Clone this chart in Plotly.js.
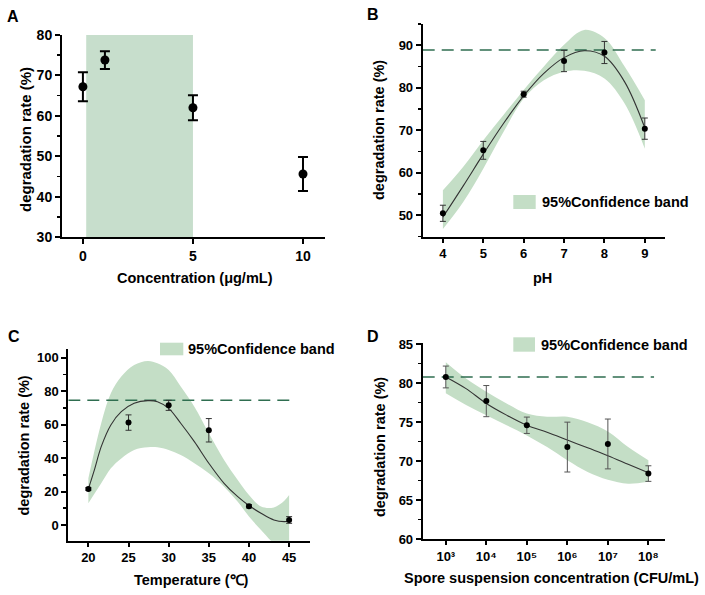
<!DOCTYPE html>
<html>
<head>
<meta charset="utf-8">
<script src="https://cdn.plot.ly/plotly-3.0.1.min.js"></script>
<style>html,body{margin:0;padding:0;background:#fff;}#chart{width:705px;height:595px;}</style>
</head>
<body>
<div id="chart"></div>
<script>
// ---------- Panel A ----------
const concA = [0, 1, 5, 10];
const rateA = [67.2, 73.8, 62.0, 45.6];
const errA  = [3.6, 2.2, 3.1, 4.2];
const shadeA = [0.15, 5];          // shaded concentration window
const shadeAy = [30, 80];

// ---------- Panel B ----------
const phB   = [4, 5, 6, 7, 8, 9];
const rateB = [50.5, 65.3, 78.5, 86.3, 88.3, 70.4];
const errB  = [1.9, 2.1, 0.7, 2.5, 2.6, 2.5];
const fitBx = [4, 4.5, 5, 5.5, 6, 6.5, 7, 7.5, 8, 8.5, 9];
const fitB  = [49.6, 56.9, 64.4, 71.6, 78.1, 83.4, 87.1, 88.7, 87.4, 81.4, 70.6];
const bandBup = [55.9, 61.4, 67.7, 73.6, 79.5, 85.0, 90.1, 93.6, 91.7, 85.0, 77.1];
const bandBlo = [46.8, 53.1, 61.0, 69.6, 77.5, 81.8, 83.8, 84.0, 82.2, 76.3, 65.7];
const refB  = 88.9;  const refBx = [3.5, 9.27];

// ---------- Panel C ----------
const tempC = [20, 25, 30, 35, 40, 45];
const rateC = [21.5, 61.2, 71.5, 56.6, 11.2, 3.0];
const errC  = [0.8, 4.6, 3.0, 7.0, 1.0, 2.0];
const fitCx = [20, 20.75, 21.6, 22.8, 24.1, 25.7, 27.4, 28.6, 30, 31.5, 33.2, 35, 36.9, 38.6, 40, 41.5, 43.1, 44.4, 45];
const fitC  = [21.5, 32.9, 46.8, 59.8, 67.7, 72.7, 74.3, 73.7, 69.7, 60.8, 49.8, 36.9, 24.9, 16.9, 11.6, 7.0, 3.0, 2.0, 2.4];
const bandCx  = [20, 21.6, 22.8, 24.1, 25.7, 27.4, 28.6, 30, 31.5, 33.2, 35, 36.9, 38.6, 40, 41.5, 43.1, 44.4, 45];
const bandCup = [28, 60.8, 78.7, 88.7, 95.6, 98.0, 96.6, 92.6, 82.7, 70.7, 54.8, 38.9, 26.9, 17.9, 11.0, 10.5, 14.5, 17.9];
const bandClo = [13.0, 24.9, 33.9, 39.8, 44.8, 46.4, 46.4, 44.8, 41.8, 36.9, 30.9, 22.9, 13.9, 5.0, -3.0, -11, -15, -17];
const refC  = 74.5;  const refCx = [17.5, 45.1];

// ---------- Panel D ----------
const expD   = [3, 4, 5, 6, 7, 8];   // log10(CFU/mL)
const tickD  = ['10³', '10⁴', '10⁵', '10⁶', '10⁷', '10⁸'];
const rateD  = [80.8, 77.7, 74.6, 71.8, 72.2, 68.4];
const errD   = [1.4, 2.0, 1.05, 3.2, 3.2, 1.0];
const fitDx  = [3, 3.5, 4, 4.5, 5, 5.5, 6, 6.5, 7, 7.5, 8];
const fitD   = [80.8, 79.3, 77.4, 75.9, 74.6, 73.7, 72.7, 71.7, 70.7, 69.6, 68.5];
const bandDup = [82.7, 80.6, 78.9, 77.4, 76.1, 75.7, 75.7, 75.0, 73.8, 71.8, 70.1];
const bandDlo = [78.7, 77.2, 75.9, 74.6, 73.3, 71.8, 70.1, 68.6, 67.6, 67.1, 67.35];
const refD  = 80.8;  const refDx = [2.43, 8.14];

// ---------- styling ----------
const W = 705, H = 595;
const FONT = 'Liberation Sans, Arial, Helvetica, sans-serif';
const BAND = 'rgb(196,222,198)';
const DASH = 'rgb(47,110,80)';
const px = v => v / W;
const py = v => 1 - v / H;

function bandTraces(xs, lo, up, xa, ya) {
  return [
    {x: xs, y: lo, xaxis: xa, yaxis: ya, mode: 'lines', line: {width: 0, shape: 'spline', color: BAND}, hoverinfo: 'skip', showlegend: false},
    {x: xs, y: up, xaxis: xa, yaxis: ya, mode: 'lines', fill: 'tonexty', fillcolor: BAND, line: {width: 0, shape: 'spline', color: BAND}, hoverinfo: 'skip', showlegend: false}
  ];
}
function fitTrace(xs, ys, xa, ya) {
  return {x: xs, y: ys, xaxis: xa, yaxis: ya, mode: 'lines', line: {color: '#333', width: 1.1, shape: 'spline'}, showlegend: false};
}
function refTrace(xs, yv, xa, ya) {
  return {x: xs, y: xs.map(() => yv), xaxis: xa, yaxis: ya, mode: 'lines', line: {color: DASH, width: 1.5, dash: '12px,7px'}, showlegend: false};
}
function ptTrace(xs, ys, es, xa, ya, ec) {
  return {x: xs, y: ys, xaxis: xa, yaxis: ya, mode: 'markers', marker: {color: '#000', size: 6},
    error_y: {type: 'data', array: es, visible: true, color: ec || '#333', thickness: 1, width: 3}, showlegend: false};
}

const traces = [
  {x: concA, y: rateA, xaxis: 'x', yaxis: 'y', mode: 'markers', marker: {color: '#000', size: 9},
   error_y: {type: 'data', array: errA, visible: true, color: '#000', thickness: 2, width: 5}, showlegend: false},
  ...bandTraces(fitBx, bandBlo, bandBup, 'x2', 'y2'),
  refTrace(refBx, refB, 'x2', 'y2'),
  fitTrace(fitBx, fitB, 'x2', 'y2'),
  ptTrace(phB, rateB, errB, 'x2', 'y2'),
  ...bandTraces(bandCx, bandClo, bandCup, 'x3', 'y3'),
  refTrace(refCx, refC, 'x3', 'y3'),
  fitTrace(fitCx, fitC, 'x3', 'y3'),
  ptTrace(tempC, rateC, errC, 'x3', 'y3'),
  ...bandTraces(fitDx, bandDlo, bandDup, 'x4', 'y4'),
  refTrace(refDx, refD, 'x4', 'y4'),
  fitTrace(fitDx, fitD, 'x4', 'y4'),
  ptTrace(expD, rateD, errD, 'x4', 'y4', '#555')
];

function axis(extra, fs) {
  return Object.assign({
    showline: true, linecolor: '#000', linewidth: 2, mirror: false,
    ticks: 'outside', ticklen: 5, tickwidth: 2, tickcolor: '#000',
    showgrid: false, zeroline: false, fixedrange: true,
    tickfont: {family: FONT, size: fs || 13, color: '#000', weight: 'bold'}
  }, extra);
}
function minor(d) { return {ticks: 'outside', ticklen: 3, tickwidth: 1.5, tickcolor: '#000', dtick: d, showgrid: false}; }

const layout = {
  width: W, height: H, margin: {l: 0, r: 0, t: 0, b: 0},
  paper_bgcolor: '#fff', plot_bgcolor: 'rgba(0,0,0,0)', showlegend: false,
  font: {family: FONT, color: '#000'},
  xaxis:  axis({domain: [px(62), px(325)], range: [-0.95, 11], tickmode: 'linear', tick0: 0, dtick: 5, anchor: 'y'}, 14),
  yaxis:  axis({domain: [py(237), py(35)], range: [30, 80], tickmode: 'linear', tick0: 30, dtick: 10, anchor: 'x', minor: minor(5)}, 14),
  xaxis2: axis({domain: [px(422.7), px(665)], range: [3.5, 9.5], tickmode: 'linear', tick0: 4, dtick: 1, anchor: 'y2', ticklen: 4}),
  yaxis2: axis({domain: [py(236.7), py(24)], range: [45, 95], tickmode: 'linear', tick0: 50, dtick: 10, anchor: 'x2', minor: minor(5)}),
  xaxis3: axis({domain: [px(68.3), px(310)], range: [17.5, 47.6], tickmode: 'linear', tick0: 20, dtick: 5, anchor: 'y3', ticklen: 4}),
  yaxis3: axis({domain: [py(540.7), py(349.3)], range: [-9.4, 105], tickmode: 'linear', tick0: 0, dtick: 20, anchor: 'x3', minor: minor(10)}),
  xaxis4: axis({domain: [px(422.7), px(665)], range: [2.43, 8.41], tickmode: 'array', tickvals: expD, ticktext: tickD, anchor: 'y4', ticklen: 4}),
  yaxis4: axis({domain: [py(539), py(342.7)], range: [60, 85.2], tickmode: 'linear', tick0: 60, dtick: 5, anchor: 'x4', minor: minor(2.5)}),
  shapes: [
    {type: 'rect', xref: 'x', yref: 'y', x0: shadeA[0], x1: shadeA[1], y0: shadeAy[0], y1: shadeAy[1], fillcolor: 'rgb(199,222,204)', line: {width: 0}, layer: 'below'},
    // legend swatches
    {type: 'rect', xref: 'paper', yref: 'paper', x0: px(513.3), x1: px(535.7), y0: py(209), y1: py(195), fillcolor: BAND, line: {width: 0}},
    {type: 'rect', xref: 'paper', yref: 'paper', x0: px(160), x1: px(183.3), y0: py(355.3), y1: py(342.7), fillcolor: BAND, line: {width: 0}},
    {type: 'rect', xref: 'paper', yref: 'paper', x0: px(513.3), x1: px(535), y0: py(351.7), y1: py(337.3), fillcolor: BAND, line: {width: 0}}
  ],
  annotations: []
};

function txt(text, x, y, size, opts) {
  layout.annotations.push(Object.assign({
    text: text, xref: 'paper', yref: 'paper', x: px(x), y: py(y), showarrow: false,
    xanchor: 'center', yanchor: 'middle',
    font: {family: FONT, size: size, color: '#000', weight: 'bold'}
  }, opts || {}));
}
// panel letters
txt('A', 13, 16, 16);
txt('B', 373, 14, 16);
txt('C', 14, 336, 16);
txt('D', 373, 336, 16);
// axis titles
txt('degradation rate (%)', 25, 140, 15, {textangle: -90});
txt('Concentration (μg/mL)', 195, 277.5, 14.5);
txt('degradation rate (%)', 379, 130, 14.5, {textangle: -90});
txt('pH', 542.7, 278, 14.5);
txt('degradation rate (%)', 23.5, 446, 14.5, {textangle: -90});
txt('Temperature (℃)', 191.7, 580, 14.5);
txt('degradation rate (%)', 380, 447, 14.5, {textangle: -90});
txt('Spore suspension concentration (CFU/mL)', 551.7, 578.3, 14.5);
// legend texts
txt('95%Confidence band', 540, 202, 14.5, {xanchor: 'left'});
txt('95%Confidence band', 186, 349, 14.5, {xanchor: 'left'});
txt('95%Confidence band', 539.3, 344.5, 14.5, {xanchor: 'left'});

Plotly.newPlot('chart', traces, layout, {displayModeBar: false, staticPlot: true});
</script>
</body>
</html>
